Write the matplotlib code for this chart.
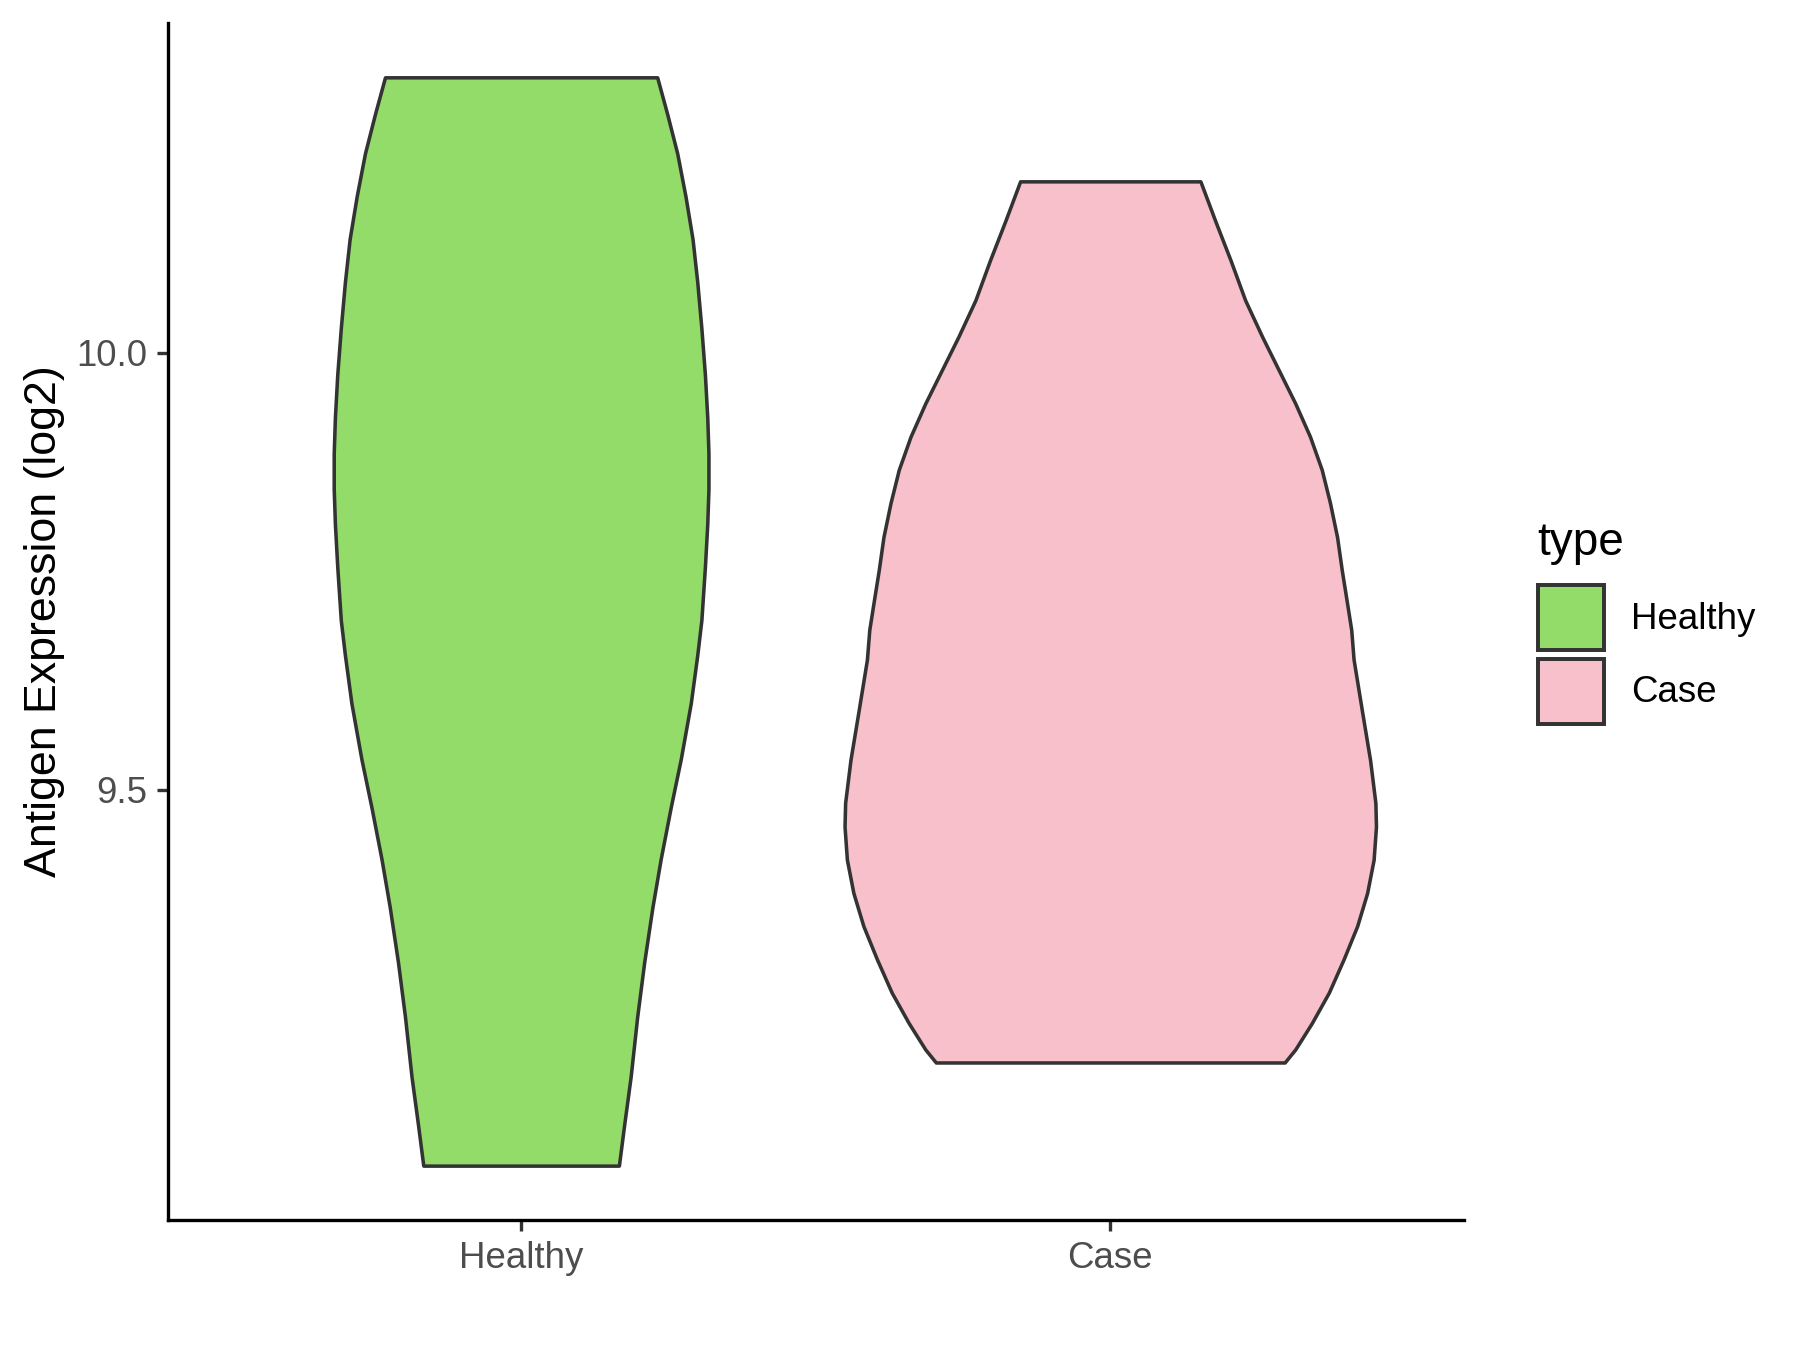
import matplotlib.pyplot as plt
from matplotlib.patches import Patch

plt.rcParams['font.family'] = ['Liberation Sans', 'DejaVu Sans']

groups = ["Healthy", "Case"]
colors = ["#93DC6A", "#F7C0CB"]

# violin outlines: expression level and half width (x units)
healthy_y = [10.315, 10.273, 10.228, 10.179, 10.130, 10.081, 10.028, 9.975, 9.926,
             9.885, 9.844, 9.804, 9.755, 9.694, 9.654, 9.599, 9.535, 9.480, 9.421,
             9.366, 9.303, 9.240, 9.172, 9.117, 9.070]
healthy_w = [0.231, 0.248, 0.265, 0.279, 0.291, 0.299, 0.306, 0.312, 0.316,
             0.318, 0.318, 0.316, 0.312, 0.306, 0.299, 0.288, 0.271, 0.254, 0.237,
             0.223, 0.209, 0.197, 0.186, 0.175, 0.166]

case_y = [10.196, 10.151, 10.106, 10.060, 10.018, 9.980, 9.942, 9.904, 9.866, 9.828,
          9.789, 9.751, 9.713, 9.683, 9.649, 9.591, 9.534, 9.485, 9.458, 9.420,
          9.382, 9.344, 9.306, 9.268, 9.233, 9.203, 9.188]
case_w = [0.153, 0.178, 0.204, 0.229, 0.258, 0.286, 0.314, 0.339, 0.359, 0.373,
          0.385, 0.393, 0.402, 0.409, 0.413, 0.427, 0.441, 0.450, 0.451, 0.447,
          0.436, 0.419, 0.396, 0.371, 0.342, 0.314, 0.296]

yticks = [9.5, 10.0]
ytick_labels = ["9.5", "10.0"]

fig = plt.figure(figsize=(12, 9), dpi=150)
ax = fig.add_axes([0.0931, 0.0963, 0.7201, 0.8867])

profiles = [(healthy_y, healthy_w), (case_y, case_w)]
for i, (ys, ws) in enumerate(profiles):
    pos = i + 1
    left = [pos - w for w in ws]
    right = [pos + w for w in ws]
    ax.fill_betweenx(ys, left, right, facecolor=colors[i], edgecolor="#333333",
                     linewidth=1.7, joinstyle="round")

ax.set_xlim(0.4, 2.6)
ax.set_ylim(9.0078, 10.3772)
ax.set_xticks([1, 2])
ax.set_xticklabels(groups)
ax.set_yticks(yticks)
ax.set_yticklabels(ytick_labels)

for s in ["top", "right"]:
    ax.spines[s].set_visible(False)
for s in ["left", "bottom"]:
    ax.spines[s].set_linewidth(1.6)
    ax.spines[s].set_color("black")
    ax.spines[s].set_capstyle("projecting")

ax.tick_params(axis="both", length=5.5, width=1.6, color="#333333",
               labelsize=17.6, labelcolor="#4D4D4D", pad=4.4)

ax.set_ylabel("Antigen Expression (log2)", fontsize=21.5, color="black")
ax.yaxis.set_label_coords(-0.079, 0.5)

# legend: title as its own text so the gap under it can match
fig.text(0.8539, 0.5889, "type", fontsize=22, ha="left", va="baseline")
handles = [Patch(facecolor=c, edgecolor="#333333", linewidth=1.9) for c in colors]
leg = fig.legend(handles, groups, loc="upper left",
                 bbox_to_anchor=(0.8545, 0.5665), frameon=False, fontsize=17.6,
                 handlelength=1.81, handleheight=2.36,
                 labelspacing=0.22, handletextpad=0.73, borderpad=0, borderaxespad=0)

fig.savefig("out.png", dpi=150)
